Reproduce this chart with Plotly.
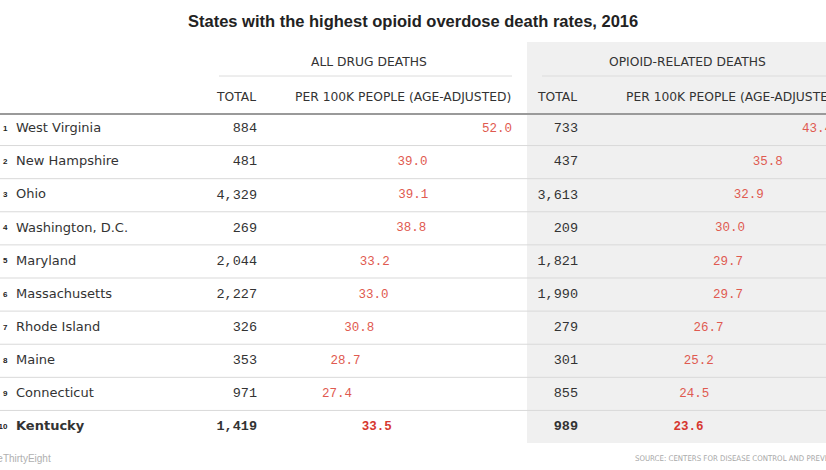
import plotly.graph_objects as go

title = "States with the highest opioid overdose death rates, 2016"
states = ["West Virginia", "New Hampshire", "Ohio", "Washington, D.C.", "Maryland",
          "Massachusetts", "Rhode Island", "Maine", "Connecticut", "Kentucky"]
ranks = list(range(1, 11))
drug_total = [884, 481, 4329, 269, 2044, 2227, 326, 353, 971, 1419]
drug_rate = [52.0, 39.0, 39.1, 38.8, 33.2, 33.0, 30.8, 28.7, 27.4, 33.5]
opioid_total = [733, 437, 3613, 209, 1821, 1990, 279, 301, 855, 989]
opioid_rate = [43.4, 35.8, 32.9, 30.0, 29.7, 29.7, 26.7, 25.2, 24.5, 23.6]
highlight = "Kentucky"

W, H = 826, 470
PX_PER_UNIT = 6.5
DRUG_ZERO_PX = 174
OPI_ZERO_PX = 550
ROW1_PX, ROW_STEP = 129, 33.11

def bold(s, b):
    return f"<b>{s}</b>" if b else s

hl = [s == highlight for s in states]
RED = "#df5a50"
RED_HL = "#d6372f"
DARK = "#333333"
SANS = "Liberation Sans, Arial, sans-serif"
WIDE = "DejaVu Sans, Liberation Sans, sans-serif"
MONO = "Liberation Mono, DejaVu Sans Mono, monospace"

fig = go.Figure()

# rank numbers
fig.add_trace(go.Scatter(
    x=[7.5] * len(ranks), y=ranks, mode="text",
    text=[f"<b>{r}</b>" for r in ranks], textposition="middle left",
    textfont=dict(family=SANS, size=8, color="#222"), xaxis="x", yaxis="y",
    hoverinfo="skip"))
# state names
fig.add_trace(go.Scatter(
    x=[16] * len(states), y=ranks, mode="text",
    text=[bold(s, b) for s, b in zip(states, hl)], textposition="middle right",
    textfont=dict(family=WIDE, size=13, color=DARK), xaxis="x", yaxis="y",
    hoverinfo="skip"))
# totals
fig.add_trace(go.Scatter(
    x=[257] * len(states), y=ranks, mode="text",
    text=[bold(f"{v:,}", b) for v, b in zip(drug_total, hl)], textposition="middle left",
    textfont=dict(family=MONO, size=13.5, color=DARK), xaxis="x", yaxis="y",
    hoverinfo="skip"))
fig.add_trace(go.Scatter(
    x=[578] * len(states), y=ranks, mode="text",
    text=[bold(f"{v:,}", b) for v, b in zip(opioid_total, hl)], textposition="middle left",
    textfont=dict(family=MONO, size=13.5, color=DARK), xaxis="x", yaxis="y",
    hoverinfo="skip"))
# rates positioned by value
fig.add_trace(go.Scatter(
    x=drug_rate, y=ranks, mode="text",
    text=[bold(f"{v:.1f}", b) for v, b in zip(drug_rate, hl)], textposition="middle left",
    textfont=dict(family=MONO, size=12.5, color=[RED_HL if b else RED for b in hl]),
    xaxis="x2", yaxis="y", hoverinfo="skip"))
fig.add_trace(go.Scatter(
    x=opioid_rate, y=ranks, mode="text",
    text=[bold(f"{v:.1f}", b) for v, b in zip(opioid_rate, hl)], textposition="middle left",
    textfont=dict(family=MONO, size=12.5, color=[RED_HL if b else RED for b in hl]),
    xaxis="x3", yaxis="y", hoverinfo="skip"))

def px_x(p):
    return p / W

def px_y(p):
    return 1 - p / H

shapes = []
# shaded opioid block
shapes.append(dict(type="rect", xref="paper", yref="paper", x0=px_x(527), x1=1,
                   y0=px_y(443), y1=px_y(42), fillcolor="#f0f0f0", line=dict(width=0),
                   layer="below"))
# group header underlines
shapes.append(dict(type="line", xref="paper", yref="paper", x0=px_x(219), x1=px_x(512),
                   y0=px_y(76), y1=px_y(76), line=dict(color="#dcdcdc", width=1)))
shapes.append(dict(type="line", xref="paper", yref="paper", x0=px_x(542), x1=1,
                   y0=px_y(76), y1=px_y(76), line=dict(color="#dcdcdc", width=1)))
# heavy header line
shapes.append(dict(type="line", xref="paper", yref="paper", x0=0, x1=1,
                   y0=px_y(114), y1=px_y(114), line=dict(color="#9a9a9a", width=2)))
# row separators
for r in ranks[:-1]:
    shapes.append(dict(type="line", xref="paper", yref="y", x0=0, x1=1,
                       y0=r + 0.5, y1=r + 0.5, line=dict(color="#d9d9d9", width=1)))

ann = []
ann.append(dict(text=f"<b>{title}</b>", x=px_x(413), y=px_y(21), xref="paper", yref="paper",
                showarrow=False, xanchor="center", yanchor="middle",
                font=dict(family=SANS, size=16.5, color="#222")))
hdr_font = dict(family=WIDE, size=12.3, color="#333")
ann.append(dict(text="ALL DRUG DEATHS", x=px_x(369), y=px_y(62), xref="paper", yref="paper",
                showarrow=False, xanchor="center", yanchor="middle", font=hdr_font))
ann.append(dict(text="OPIOID-RELATED DEATHS", x=px_x(687), y=px_y(62), xref="paper", yref="paper",
                showarrow=False, xanchor="center", yanchor="middle", font=hdr_font))
for txt, xr in [("TOTAL", 258), ("PER 100K PEOPLE (AGE-ADJUSTED)", 513),
                ("TOTAL", 579), ("PER 100K PEOPLE (AGE-ADJUSTED)", 844)]:
    ann.append(dict(text=txt, x=px_x(xr), y=px_y(97), xref="paper", yref="paper",
                    showarrow=False, xanchor="right", yanchor="middle", font=hdr_font))
ann.append(dict(text="FiveThirtyEight", x=px_x(53), y=px_y(458), xref="paper", yref="paper",
                showarrow=False, xanchor="right", yanchor="middle",
                font=dict(family=SANS, size=10, color="#b0b0b0")))
ann.append(dict(text="SOURCE: CENTERS FOR DISEASE CONTROL AND PREVENTION", x=px_x(633),
                y=px_y(458), xref="paper", yref="paper", showarrow=False, xanchor="left",
                yanchor="middle",
                font=dict(family="Liberation Sans Narrow, DejaVu Sans Condensed, sans-serif",
                          size=7.8, color="#a8a8a8")))

def rng(zero_px):
    return [-zero_px / PX_PER_UNIT, (W - zero_px) / PX_PER_UNIT]

y_top = 1 - ROW1_PX / ROW_STEP
y_bot = 1 + (H - ROW1_PX) / ROW_STEP
axis_off = dict(visible=False, showgrid=False, zeroline=False, fixedrange=True)

fig.update_layout(
    width=W, height=H, margin=dict(l=0, r=0, t=0, b=0),
    paper_bgcolor="white", plot_bgcolor="rgba(0,0,0,0)", showlegend=False,
    xaxis=dict(range=[0, W], domain=[0, 1], **axis_off),
    xaxis2=dict(range=rng(DRUG_ZERO_PX), overlaying="x", **axis_off),
    xaxis3=dict(range=rng(OPI_ZERO_PX), overlaying="x", **axis_off),
    yaxis=dict(range=[y_bot, y_top], domain=[0, 1], **axis_off),
    shapes=shapes, annotations=ann,
)

fig.write_html("out.html", config={"displayModeBar": False},
               post_script="document.body.style.margin='0';document.body.style.overflow='hidden';")
